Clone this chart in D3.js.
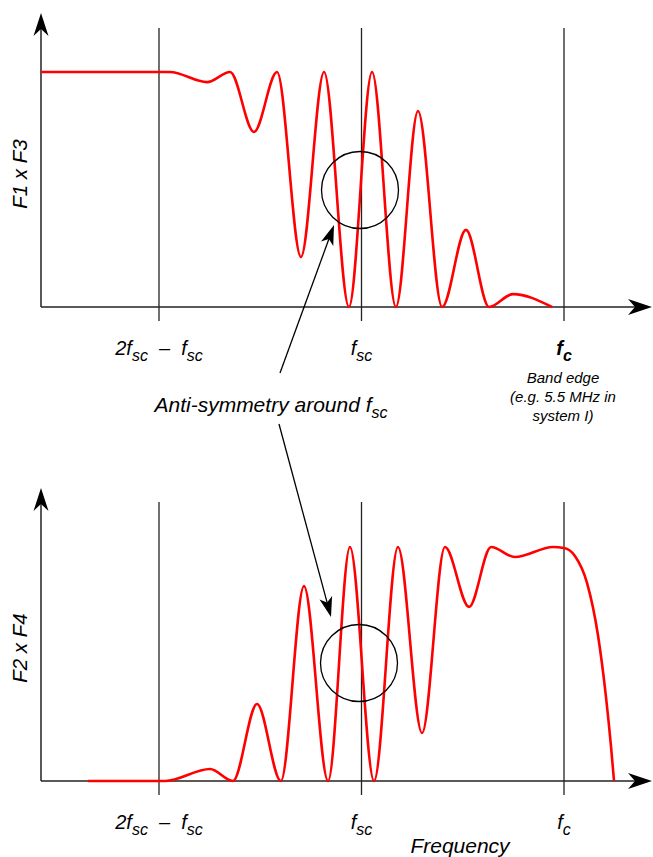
<!DOCTYPE html>
<html><head><meta charset="utf-8">
<script src="https://cdn.jsdelivr.net/npm/d3@7"></script>
<style>body{margin:0;background:#fff}svg{display:block}</style>
</head><body>
<script>
// ---------- data ----------
// marker frequencies (units: 1 = 2fsc - fsc, 2 = fsc, 3 = fc)
const markerFreqs = [1, 2, 3];
const topTickLabels = ["2f_{sc}\u00A0 –\u00A0 f_{sc}", "f_{sc}", "f_{c}"];
const bottomTickLabels = ["2f_{sc}\u00A0 –\u00A0 f_{sc}", "f_{sc}", "f_{c}"];
const bandEdgeLines = ["Band edge", "(e.g. 5.5 MHz in", "system I)"];
const topYLabel = "F1 x F3";
const bottomYLabel = "F2 x F4";
const xLabel = "Frequency";
const annotation = "Anti-symmetry around f_{sc}";

// F1 x F3 response (relative frequency, relative gain)
const topFreq = [0.417, 1.054, 1.237, 1.351, 1.469, 1.583, 1.701, 1.815, 1.938, 2.052, 2.170, 2.279, 2.398, 2.516, 2.630, 2.748, 2.941];
const topGain = [1.0, 1.0, 0.957, 1.0, 0.745, 1.0, 0.213, 1.0, 0.0, 1.0, 0.0, 0.834, 0.0, 0.328, 0.0, 0.055, 0.0];

// F2 x F4 response
const bottomFreq = [0.649, 1.030, 1.252, 1.365, 1.484, 1.602, 1.716, 1.835, 1.943, 2.062, 2.180, 2.299, 2.412, 2.531, 2.640, 2.758, 2.946, 3.000, 3.054, 3.114, 3.168, 3.207, 3.232, 3.247];
const bottomGain = [0.0, 0.0, 0.051, 0.0, 0.329, 0.0, 0.833, 0.0, 1.0, 0.0, 1.0, 0.205, 1.0, 0.744, 1.0, 0.957, 1.0, 0.996, 0.962, 0.846, 0.622, 0.362, 0.149, 0.0];

// ---------- layout ----------
const W = 653, H = 857;
const svg = d3.select("body").append("svg").attr("width", W).attr("height", H)
  .style("font-family", "'Liberation Sans', Arial, Helvetica, sans-serif");

const x = d3.scaleLinear().domain([1, 3]).range([159, 564]);
const axisX0 = 41, axisXEnd = 652;

const panels = [
  {freq: topFreq, gain: topGain, base: 307, top: 72, axisTop: 13, vTop: 28, vBot: 321,
   labels: topTickLabels, labelY: 355, yLabel: topYLabel, yLabelY: 174, circle: [360, 190], boldLast: true},
  {freq: bottomFreq, gain: bottomGain, base: 781, top: 547, axisTop: 488, vTop: 502, vBot: 795,
   labels: bottomTickLabels, labelY: 829, yLabel: bottomYLabel, yLabelY: 648, circle: [359, 663], boldLast: false}
];

function stealth(g, tx, ty, angleDeg, len, halfW, notch) {
  g.append("path")
    .attr("d", `M0,0 L${-len},${-halfW} L${-len + notch},0 L${-len},${halfW} Z`)
    .attr("transform", `translate(${tx},${ty}) rotate(${angleDeg})`)
    .attr("fill", "#000");
}

function richText(sel, str, size, subSize) {
  const parts = str.split(/(_\{[^}]*\})/).filter(s => s.length);
  let shifted = false;
  parts.forEach(p => {
    if (p.startsWith("_{")) {
      sel.append("tspan").text(p.slice(2, -1)).attr("font-size", subSize).attr("dy", size * 0.28);
      shifted = true;
    } else {
      sel.append("tspan").text(p).attr("font-size", size).attr("dy", shifted ? -size * 0.28 : 0);
      shifted = false;
    }
  });
  return sel;
}

panels.forEach(p => {
  const y = d3.scaleLinear().domain([0, 1]).range([p.base, p.top]);
  const g = svg.append("g");

  // vertical marker lines
  g.selectAll("line.mark").data(markerFreqs).join("line")
    .attr("x1", d => x(d)).attr("x2", d => x(d))
    .attr("y1", p.vTop).attr("y2", p.vBot)
    .attr("stroke", "#222").attr("stroke-width", 1.3);

  // axes
  g.append("line").attr("x1", axisX0).attr("x2", axisX0).attr("y1", y(0)).attr("y2", p.axisTop + 10)
    .attr("stroke", "#222").attr("stroke-width", 1.5);
  stealth(g, axisX0, p.axisTop, -90, 23, 7.5, 7);
  g.append("line").attr("x1", axisX0).attr("x2", axisXEnd - 10).attr("y1", y(0)).attr("y2", y(0))
    .attr("stroke", "#222").attr("stroke-width", 1.5);
  stealth(g, axisXEnd, y(0), 0, 24, 8, 7);

  // curve
  const data = p.freq.map((f, i) => ({f, g: p.gain[i]}));
  g.append("path").datum(data)
    .attr("d", d3.line().x(d => x(d.f)).y(d => y(d.g)).curve(d3.curveMonotoneX))
    .attr("fill", "none").attr("stroke", "#ff0000").attr("stroke-width", 2.6)
    .attr("stroke-linejoin", "round");

  // circle
  g.append("ellipse").attr("cx", p.circle[0]).attr("cy", p.circle[1]).attr("rx", 38.5).attr("ry", 38.5)
    .attr("fill", "none").attr("stroke", "#000").attr("stroke-width", 1.3);

  // tick labels
  p.labels.forEach((lab, i) => {
    const t = g.append("text").attr("x", x(markerFreqs[i])).attr("y", p.labelY)
      .attr("text-anchor", "middle").attr("font-style", "italic").attr("fill", "#000");
    if (p.boldLast && i === p.labels.length - 1) t.attr("font-weight", "bold");
    richText(t, lab, 20, 16);
  });

  // y label
  g.append("text").attr("transform", `translate(27,${p.yLabelY}) rotate(-90)`)
    .attr("text-anchor", "middle").attr("font-style", "italic").attr("font-size", 20.5)
    .text(p.yLabel);
});

// band edge note
bandEdgeLines.forEach((l, i) => {
  svg.append("text").attr("x", 563).attr("y", 383 + i * 19).attr("text-anchor", "middle")
    .attr("font-style", "italic").attr("font-size", 15).text(l);
});

// annotation text
const at = svg.append("text").attr("x", 271).attr("y", 412).attr("text-anchor", "middle")
  .attr("font-style", "italic");
richText(at, annotation, 21, 16);

// annotation arrows
const arrows = [
  {x1: 280, y1: 373, x2: 334, y2: 225},
  {x1: 279, y1: 424, x2: 331, y2: 617}
];
arrows.forEach(a => {
  const ang = Math.atan2(a.y2 - a.y1, a.x2 - a.x1);
  svg.append("line").attr("x1", a.x1).attr("y1", a.y1)
    .attr("x2", a.x2 - Math.cos(ang) * 12).attr("y2", a.y2 - Math.sin(ang) * 12)
    .attr("stroke", "#000").attr("stroke-width", 1.3);
  stealth(svg, a.x2, a.y2, ang * 180 / Math.PI, 20, 6.5, 5);
});

// x axis title
svg.append("text").attr("x", 460).attr("y", 853).attr("text-anchor", "middle")
  .attr("font-style", "italic").attr("font-size", 21).text(xLabel);
</script>
</body></html>
